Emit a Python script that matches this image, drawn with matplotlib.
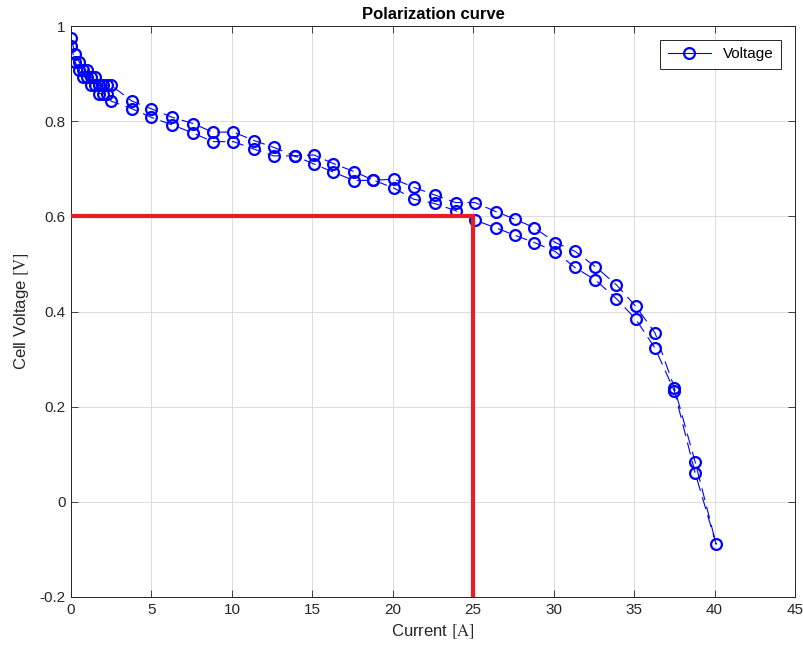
import numpy as np
import matplotlib as mpl
mpl.use('Agg')
import matplotlib.pyplot as plt
from matplotlib.lines import Line2D

### data ###
# forward sweep (upper branch), current in A
current_up = [0.0, 0.25, 0.5, 0.75, 1.0, 1.25, 1.5, 1.75, 2.0, 2.25, 2.5,
              3.8, 5.0, 6.3, 7.6, 8.8, 10.1, 11.4, 12.6, 13.9, 15.1, 16.3,
              17.6, 18.8, 20.1, 21.3, 22.6, 23.9, 25.1, 26.4, 27.6, 28.8,
              30.1, 31.3, 32.6, 33.9, 35.1, 36.3, 37.5, 38.8, 40.1]
voltage_up = [0.975, 0.942, 0.925, 0.908, 0.908, 0.892, 0.892, 0.875, 0.875, 0.875, 0.875,
              0.842, 0.826, 0.808, 0.795, 0.777, 0.777, 0.759, 0.745, 0.727, 0.729, 0.711,
              0.694, 0.676, 0.678, 0.661, 0.645, 0.629, 0.629, 0.610, 0.594, 0.576,
              0.545, 0.527, 0.494, 0.456, 0.411, 0.355, 0.240, 0.083, -0.089]
# backward sweep (lower branch)
current_down = [38.8, 37.5, 36.3, 35.1, 33.9, 32.6, 31.3, 30.1, 28.8, 27.6,
                26.4, 25.1, 23.9, 22.6, 21.3, 20.1, 18.8, 17.6, 16.3, 15.1,
                13.9, 12.6, 11.4, 10.1, 8.8, 7.6, 6.3, 5.0, 3.8,
                2.5, 2.25, 2.0, 1.75, 1.5, 1.25, 1.0, 0.75, 0.5, 0.25, 0.0]
voltage_down = [0.060, 0.233, 0.323, 0.384, 0.427, 0.466, 0.493, 0.526, 0.545, 0.560,
                0.576, 0.592, 0.612, 0.627, 0.636, 0.659, 0.676, 0.675, 0.693, 0.710,
                0.727, 0.727, 0.741, 0.757, 0.757, 0.775, 0.792, 0.808, 0.826,
                0.842, 0.858, 0.858, 0.858, 0.875, 0.875, 0.892, 0.892, 0.908, 0.925, 0.958]

op_current = 25      # operating point
op_voltage = 0.6

xticks = np.arange(0, 46, 5)
yticks = [-0.2, 0, 0.2, 0.4, 0.6, 0.8, 1]
ytick_labels = ['-0.2', '0', '0.2', '0.4', '0.6', '0.8', '1']

### style ###
plt.rcParams['font.family'] = ['Liberation Sans', 'DejaVu Sans']
plt.rcParams['mathtext.fontset'] = 'stix'
blue = '#0000ff'
red = '#ea1c24'
axcol = '#262626'

fig = plt.figure(figsize=(8.04, 6.51), dpi=100)
ax = fig.add_axes([71/804, 1-597/651, (795-71)/804, (597-26)/651])

I = current_up + current_down
V = voltage_up + voltage_down
line, = ax.plot(I, V, color=blue, lw=0.8, marker='o', ms=7.8, mfc='none',
                mec=blue, mew=1.6, zorder=3)
line.set_dashes((11, 6))

# operating point lines
ax.plot([0, op_current], [op_voltage, op_voltage], color=red, lw=3, zorder=4)
ax.plot([op_current, op_current], [-0.2, op_voltage], color=red, lw=3, zorder=4)

ax.set_xlim(0, 45)
ax.set_ylim(-0.2, 1)
ax.set_xticks(xticks)
ax.set_yticks(yticks)
ax.set_yticklabels(ytick_labels)
ax.grid(True, color='#dcdcdc', lw=0.7)
ax.set_axisbelow(True)
ax.tick_params(direction='in', length=5, width=0.6, colors=axcol, labelsize=11,
               top=True, right=True, pad=4)
for s in ax.spines.values():
    s.set_color(axcol)
    s.set_linewidth(0.7)

ax.set_title('Polarization curve', fontsize=12, fontweight='bold', pad=5)
ax.set_xlabel(r'Current $[\mathrm{A}]$', fontsize=12, color=axcol, labelpad=4)
ax.set_ylabel(r'Cell Voltage $[\mathrm{V}]$', fontsize=12, color=axcol, labelpad=6)

handle = Line2D([], [], color=blue, lw=0.8, marker='o', ms=7.8, mfc='none',
                mec=blue, mew=1.6)
leg = ax.legend([handle], ['Voltage'], loc='upper right', fontsize=11,
                fancybox=False, edgecolor=axcol, framealpha=1,
                borderpad=0.5, handlelength=2.8, borderaxespad=0.9)
leg.get_frame().set_linewidth(0.7)

fig.savefig('out.png', dpi=100)
